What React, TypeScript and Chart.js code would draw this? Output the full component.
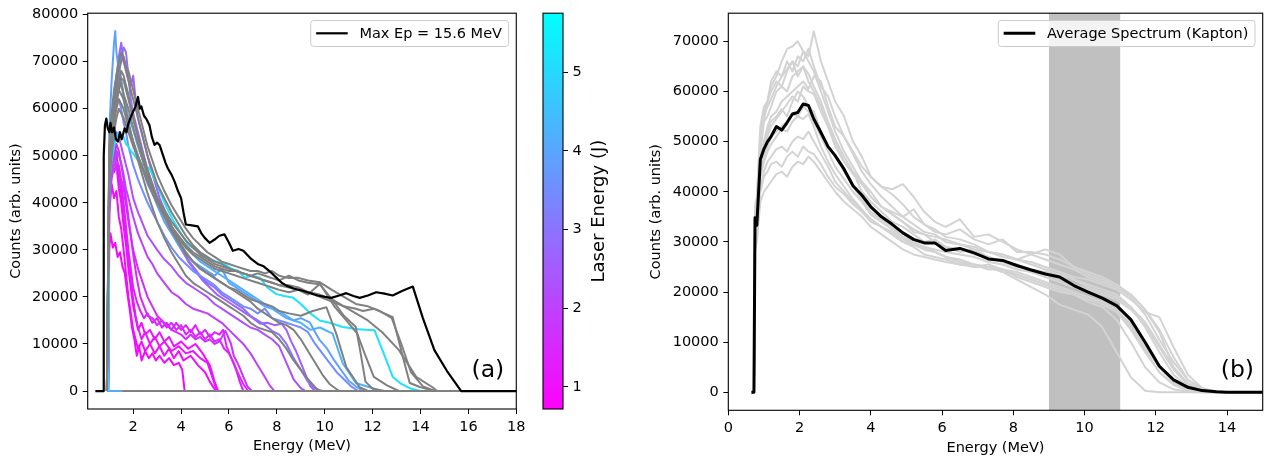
import React, { useEffect, useRef } from 'react';
import { Chart, registerables } from 'chart.js';

Chart.register(...registerables);

type Pt = [number, number];

const FONT_FAMILY = "'DejaVu Sans', 'Liberation Sans', sans-serif";

// ---------------- Panel (a) ----------------
const leftXTicks = [2, 4, 6, 8, 10, 12, 14, 16, 18];
const leftYTicks = [0, 10000, 20000, 30000, 40000, 50000, 60000, 70000, 80000];
const leftLegendLabel = 'Max Ep = 15.6 MeV';

const maxEpSpectrum: Pt[] = [[0.42,0],[0.75,0],[0.77,50000],[0.82,56500],[0.88,57900],[0.93,56000],[1.0,55000],[1.05,57000],[1.12,55000],[1.2,56000],[1.28,53500],[1.36,53000],[1.45,55000],[1.52,53500],[1.64,55800],[1.72,55000],[1.78,56500],[1.88,58000],[1.99,59300],[2.1,60500],[2.2,62500],[2.28,60000],[2.34,60500],[2.45,58500],[2.54,57900],[2.68,56500],[2.78,54000],[2.89,52300],[3.0,52800],[3.1,52300],[3.24,50200],[3.35,48500],[3.45,47300],[3.6,46000],[3.73,44500],[3.87,42500],[4.0,41000],[4.1,38000],[4.2,35400],[4.45,35200],[4.7,35000],[4.85,33500],[4.98,32600],[5.19,31500],[5.4,32200],[5.6,33000],[5.81,33300],[6.0,31500],[6.16,29800],[6.4,30200],[6.6,29800],[6.9,28200],[7.2,27000],[7.45,26500],[7.69,25500],[7.98,24100],[8.2,23000],[8.4,22400],[8.7,21800],[9.08,21300],[9.4,20800],[9.7,20300],[10.0,20000],[10.27,19800],[10.6,20300],[10.9,20800],[11.2,20200],[11.46,19800],[11.8,20300],[12.15,21000],[12.5,20700],[12.84,20300],[13.25,21300],[13.68,22200],[14.1,15500],[14.58,8700],[15.1,4300],[15.7,0],[18,0]];

// shots with a measured laser energy (coloured by the colour bar)
const shotM1: Pt[] = [[0.95,0],[1.0,30000],[1.05,33500],[1.15,30500],[1.25,31500],[1.35,28500],[1.45,29500],[1.55,26500],[1.65,25000],[1.75,21000],[1.85,17500],[1.95,13500],[2.05,11000],[2.15,7500],[2.25,9500],[2.35,6500],[2.5,8500],[2.65,7000],[2.8,8000],[2.95,6500],[3.1,7500],[3.3,6000],[3.5,7000],[3.7,5500],[3.9,6000],[4.05,4500],[4.15,0],[18,0]];
const shotM2: Pt[] = [[0.95,0],[1.0,38000],[1.1,44000],[1.2,41000],[1.3,42500],[1.4,37000],[1.5,34500],[1.6,30000],[1.7,25000],[1.8,20000],[1.9,16500],[2.0,13000],[2.1,11000],[2.2,9000],[2.35,10500],[2.5,8500],[2.7,10000],[2.9,8000],[3.1,9500],[3.3,7500],[3.5,9000],[3.7,7000],[3.9,8500],[4.1,6500],[4.4,7500],[4.7,5500],[5.0,4000],[5.2,2000],[5.45,0],[18,0]];
const shotM3: Pt[] = [[0.95,0],[1.0,45000],[1.1,49000],[1.2,46500],[1.3,48000],[1.4,43000],[1.5,40000],[1.6,35000],[1.7,31000],[1.8,26000],[1.9,22000],[2.0,18000],[2.1,15500],[2.2,13000],[2.35,14500],[2.5,12000],[2.7,13000],[2.9,11000],[3.1,12500],[3.3,10500],[3.5,11500],[3.7,9500],[4.0,10500],[4.3,9000],[4.6,10000],[4.9,8000],[5.2,5500],[5.4,2000],[5.55,0],[18,0]];
const shotM4: Pt[] = [[0.95,0],[1.0,47000],[1.1,52000],[1.2,49000],[1.3,50500],[1.4,45000],[1.5,42000],[1.6,38000],[1.7,33000],[1.8,28000],[1.9,23500],[2.0,19500],[2.1,16000],[2.2,13500],[2.35,11000],[2.5,12500],[2.7,10000],[2.9,11500],[3.1,9500],[3.3,10500],[3.6,8500],[3.9,9500],[4.2,8000],[4.5,8500],[4.8,7000],[5.1,6000],[5.3,3000],[5.5,0],[18,0]];
const shotM5: Pt[] = [[0.95,0],[1.0,46000],[1.1,51000],[1.2,53500],[1.3,50000],[1.4,47000],[1.5,44000],[1.6,40000],[1.7,35000],[1.8,30000],[1.9,26000],[2.0,22000],[2.15,19000],[2.3,17000],[2.45,15500],[2.6,16500],[2.8,14500],[3.0,15500],[3.2,13500],[3.4,14500],[3.6,13000],[3.8,14500],[4.0,13000],[4.2,14000],[4.4,12500],[4.6,14000],[4.8,12000],[5.0,13000],[5.2,11500],[5.4,12500],[5.6,12000],[5.75,13000],[5.9,9500],[6.1,7000],[6.3,4500],[6.45,2000],[6.6,0],[18,0]];
const shotM6: Pt[] = [[0.95,0],[1.0,42000],[1.1,47000],[1.2,50000],[1.3,52500],[1.4,51000],[1.5,48000],[1.6,45000],[1.7,41000],[1.8,37000],[1.9,33000],[2.0,29000],[2.15,24000],[2.3,20000],[2.45,18000],[2.6,16000],[2.8,15500],[3.0,14000],[3.2,15000],[3.4,13500],[3.6,14500],[3.8,13000],[4.0,14000],[4.2,12000],[4.4,13000],[4.6,11500],[4.8,12500],[5.0,11000],[5.2,12000],[5.4,10500],[5.6,11000],[5.8,9000],[6.0,8000],[6.2,6000],[6.4,3500],[6.6,1500],[6.8,0],[18,0]];
const shotM7: Pt[] = [[0.95,0],[1.0,44000],[1.1,48000],[1.2,49500],[1.3,47000],[1.4,48000],[1.5,45000],[1.6,43000],[1.7,39500],[1.8,36000],[1.9,33000],[2.0,30000],[2.2,26000],[2.4,23000],[2.6,20000],[2.8,18000],[3.0,16000],[3.2,15000],[3.4,14000],[3.6,13000],[3.8,12500],[4.0,12000],[4.2,11000],[4.4,12000],[4.6,11000],[4.8,11500],[5.0,10500],[5.2,11000],[5.4,10000],[5.6,10500],[5.85,12800],[6.08,10100],[6.2,7500],[6.4,5500],[6.6,3000],[6.78,900],[6.95,0],[18,0]];
const shotP1: Pt[] = [[0.95,0],[1.0,40000],[1.1,45000],[1.2,48000],[1.3,51000],[1.4,50000],[1.5,48500],[1.6,46000],[1.7,43000],[1.8,41000],[1.9,39000],[2.0,37000],[2.2,33500],[2.4,31000],[2.6,28500],[2.8,27000],[3.0,25000],[3.3,23000],[3.6,21000],[3.9,20000],[4.2,18500],[4.5,17500],[4.8,17000],[5.1,16500],[5.4,15500],[5.7,14500],[6.0,13000],[6.3,11500],[6.6,10000],[6.9,8000],[7.2,5500],[7.5,3000],[7.7,1200],[7.9,0],[18,0]];
const shotP2: Pt[] = [[0.95,0],[1.0,42000],[1.1,48000],[1.2,52000],[1.3,55000],[1.4,54000],[1.5,52000],[1.6,50000],[1.7,48000],[1.8,46000],[1.9,43500],[2.0,41000],[2.2,38000],[2.4,35500],[2.6,33000],[2.8,31500],[3.0,30000],[3.3,28000],[3.6,26500],[3.9,24500],[4.2,23000],[4.5,22000],[4.8,21000],[5.1,20000],[5.4,18500],[5.7,17500],[6.0,16500],[6.3,15500],[6.6,14500],[6.9,13500],[7.2,13000],[7.5,12000],[7.8,11000],[8.1,9500],[8.4,6000],[8.7,2500],[9.0,600],[9.2,0],[18,0]];
const shotP3: Pt[] = [[0.95,0],[1.0,48000],[1.1,56000],[1.2,62000],[1.3,67000],[1.4,71000],[1.5,74000],[1.6,70000],[1.7,68000],[1.8,66000],[1.9,65000],[2.0,67000],[2.1,62000],[2.2,58000],[2.35,55000],[2.5,52000],[2.7,48000],[2.9,44500],[3.1,41000],[3.4,37500],[3.7,34000],[4.0,30500],[4.3,27500],[4.6,25500],[4.9,23500],[5.2,22000],[5.5,20500],[5.8,19500],[6.1,18500],[6.4,17500],[6.7,16500],[7.0,15500],[7.3,14300],[7.6,14500],[7.9,14000],[8.2,14300],[8.4,13000],[8.6,10500],[8.8,8500],[9.0,6000],[9.2,3500],[9.4,1000],[9.6,0],[18,0]];
const shotP4: Pt[] = [[0.95,0],[1.0,46000],[1.1,54000],[1.2,60000],[1.3,64000],[1.4,68000],[1.5,71000],[1.6,73000],[1.7,72000],[1.8,67000],[1.9,62000],[2.0,59000],[2.2,55000],[2.4,51000],[2.6,47000],[2.8,44000],[3.0,41000],[3.3,37500],[3.6,34000],[3.9,31000],[4.2,28500],[4.5,26500],[4.8,24500],[5.1,23000],[5.4,22000],[5.7,20500],[6.0,19500],[6.3,18500],[6.6,17500],[6.9,16000],[7.2,15000],[7.5,14000],[7.8,12800],[8.1,12000],[8.4,10000],[8.7,7000],[9.0,4500],[9.3,2000],[9.6,500],[9.9,0],[18,0]];
const shotB1: Pt[] = [[0.95,0],[1.0,48000],[1.1,54000],[1.2,58000],[1.3,61000],[1.4,62000],[1.5,60000],[1.6,57000],[1.7,55000],[1.8,52000],[1.9,50000],[2.0,48000],[2.2,45000],[2.4,42500],[2.6,40000],[2.8,38000],[3.0,36000],[3.3,33000],[3.6,30500],[3.9,28500],[4.2,27000],[4.5,25500],[4.8,24500],[5.1,23500],[5.4,22500],[5.7,21000],[6.0,20000],[6.3,19000],[6.6,18000],[6.9,17500],[7.2,16500],[7.5,17500],[7.8,15500],[8.1,15000],[8.4,14500],[8.7,14000],[9.0,13500],[9.3,12500],[9.6,10000],[9.9,8000],[10.2,6000],[10.5,4000],[10.8,2500],[11.1,1000],[11.4,0],[18,0]];
const shotB2: Pt[] = [[0.9,0],[18,0]];
const shotB3: Pt[] = [[0.95,0],[1.0,55000],[1.1,66000],[1.2,74000],[1.25,76500],[1.3,72000],[1.4,68000],[1.5,66000],[1.6,62000],[1.7,60000],[1.8,57000],[1.9,55000],[2.0,53000],[2.2,50000],[2.4,47000],[2.6,44000],[2.8,42000],[3.0,39500],[3.3,36000],[3.6,33500],[3.9,31000],[4.2,29000],[4.5,27500],[4.8,26500],[5.1,25500],[5.4,24500],[5.7,26000],[6.0,23000],[6.3,22000],[6.6,21000],[6.9,20000],[7.2,19000],[7.5,18000],[7.8,17500],[8.1,16500],[8.4,15500],[8.7,15000],[9.0,15500],[9.37,14600],[9.6,12500],[9.79,10800],[10.1,9000],[10.4,6500],[10.75,4000],[11.0,2200],[11.3,1000],[11.6,0],[18,0]];
const shotB4: Pt[] = [[0.95,0],[1.0,50000],[1.1,57000],[1.2,63000],[1.3,67000],[1.4,70000],[1.5,66000],[1.6,63000],[1.7,61000],[1.8,58000],[1.9,57000],[2.0,55500],[2.2,52000],[2.4,49000],[2.6,46000],[2.8,43500],[3.0,41000],[3.3,38000],[3.6,35000],[3.9,32500],[4.2,30500],[4.5,29000],[4.8,27500],[5.1,26500],[5.4,25500],[5.7,24500],[6.0,23500],[6.3,22500],[6.6,21500],[6.9,20500],[7.2,19500],[7.5,18500],[7.8,17500],[8.1,17000],[8.4,16000],[8.7,15000],[9.0,14500],[9.4,13000],[9.8,13500],[10.33,12200],[10.75,5900],[11.3,1700],[12.0,600],[12.4,0],[18,0]];
const shotC1: Pt[] = [[0.95,0],[1.0,45000],[1.1,49000],[1.2,52000],[1.3,54000],[1.4,55000],[1.5,53500],[1.6,54000],[1.7,52500],[1.8,52000],[1.9,51000],[2.0,50500],[2.2,49000],[2.4,48000],[2.68,47300],[2.9,45000],[3.1,42500],[3.4,39000],[3.7,36000],[4.0,33500],[4.28,31200],[4.6,30000],[4.9,29000],[5.2,28000],[5.5,27500],[5.8,27000],[6.1,26000],[6.4,25500],[6.65,24100],[7.0,24500],[7.29,24100],[7.6,22000],[7.98,20600],[8.3,20200],[8.66,19900],[9.0,18500],[9.4,16500],[9.79,15000],[10.2,14500],[10.75,13600],[11.3,13200],[11.7,13000],[12.08,12900],[12.5,7500],[12.84,3000],[13.2,1500],[13.55,600],[14.0,0],[18,0]];

const colouredShots: Pt[][] = [shotM1, shotM2, shotM3, shotM4, shotM5, shotM6, shotM7, shotP1, shotP2, shotP3, shotP4, shotB1, shotB2, shotB3, shotB4, shotC1];
const colouredShotLaserJ = [0.85, 0.95, 1.05, 1.15, 1.3, 1.45, 1.6, 2.0, 2.3, 2.6, 2.9, 3.5, 4.0, 3.9, 4.2, 5.2];

// shots without a laser energy reading (grey)
const shotG0: Pt[] = [[1.55,0],[18,0]];
const shotG1: Pt[] = [[0.9,0],[1.0,45000],[1.1,52000],[1.2,58000],[1.3,61000],[1.4,64000],[1.5,63000],[1.6,62000],[1.7,59500],[1.8,57000],[1.9,55000],[2.0,53000],[2.2,49000],[2.4,45500],[2.6,42000],[2.8,39000],[3.0,36000],[3.3,32500],[3.6,29500],[3.9,27000],[4.2,24500],[4.5,23000],[4.8,22000],[5.1,21000],[5.4,20000],[5.7,19000],[6.0,18000],[6.3,17000],[6.6,16000],[6.9,14500],[7.2,13500],[7.5,13000],[7.8,12500],[8.1,11000],[8.4,9000],[8.7,6500],[9.0,4500],[9.3,2500],[9.6,800],[9.8,0],[18,0]];
const shotG2: Pt[] = [[0.9,0],[1.0,48000],[1.1,55000],[1.2,60000],[1.3,64000],[1.4,66000],[1.5,68000],[1.6,67000],[1.7,65000],[1.8,63000],[1.9,60000],[2.0,58000],[2.2,54000],[2.4,50500],[2.6,47000],[2.8,44000],[3.0,41000],[3.3,37500],[3.6,34500],[3.9,32000],[4.2,29500],[4.5,27500],[4.8,26000],[5.1,25000],[5.4,24000],[5.7,23000],[6.0,22000],[6.3,21000],[6.6,20000],[6.9,19000],[7.2,17500],[7.5,16500],[7.8,15500],[8.1,14500],[8.4,14000],[8.7,13000],[9.0,11000],[9.3,8500],[9.6,6000],[9.9,3500],[10.2,1500],[10.6,0],[18,0]];
const shotG3: Pt[] = [[0.9,0],[1.0,49000],[1.1,56000],[1.2,60000],[1.3,62500],[1.4,64000],[1.5,65500],[1.6,63000],[1.7,61500],[1.8,60000],[1.9,58000],[2.0,56000],[2.2,52500],[2.4,49000],[2.6,46000],[2.8,43000],[3.0,40000],[3.3,37000],[3.6,34000],[3.9,31500],[4.2,29000],[4.5,27500],[4.8,26000],[5.1,25000],[5.4,24000],[5.7,23000],[6.0,22000],[6.3,21500],[6.6,20500],[6.9,19500],[7.2,19000],[7.5,18500],[7.8,18000],[8.1,17000],[8.5,16500],[9.0,16000],[9.5,17000],[10.07,17800],[10.48,12200],[10.9,5100],[11.46,800],[11.8,0],[18,0]];
const shotG4: Pt[] = [[0.9,0],[1.0,50000],[1.1,57000],[1.2,62000],[1.3,66000],[1.4,68000],[1.5,70000],[1.6,71000],[1.7,68500],[1.8,66000],[1.9,64000],[2.0,62000],[2.2,58000],[2.4,54000],[2.6,50000],[2.8,47000],[3.0,44000],[3.3,41000],[3.6,38000],[3.9,35500],[4.2,33000],[4.5,31000],[4.8,29500],[5.1,28500],[5.4,27500],[5.7,27000],[6.0,26000],[6.3,25500],[6.6,25000],[6.9,24500],[7.2,25000],[7.5,24500],[7.8,24000],[8.1,23500],[8.5,24500],[8.9,23500],[9.3,23000],[9.79,22700],[10.3,19500],[10.8,16000],[11.3,13600],[11.5,8000],[11.7,2000],[12.0,500],[12.5,0],[18,0]];
const shotG5: Pt[] = [[0.9,0],[1.0,47000],[1.1,54000],[1.2,59000],[1.3,62000],[1.4,65000],[1.5,66500],[1.6,66000],[1.7,64000],[1.8,62000],[1.9,60000],[2.0,58000],[2.2,54000],[2.4,50000],[2.6,46500],[2.8,43500],[3.0,41000],[3.3,38000],[3.6,35000],[3.9,32500],[4.2,30500],[4.5,29000],[4.8,28000],[5.1,27000],[5.4,26000],[5.7,25500],[6.0,25000],[6.3,24500],[6.6,24000],[6.9,23500],[7.2,23000],[7.5,22500],[7.8,22000],[8.1,21500],[8.5,21000],[8.9,21500],[9.3,20500],[9.8,22800],[10.4,18000],[10.9,15000],[11.36,12200],[11.7,7500],[12.05,3000],[12.6,1200],[13.1,0],[18,0]];
const shotG6: Pt[] = [[0.9,0],[1.0,46000],[1.1,52000],[1.2,57000],[1.3,60000],[1.4,62000],[1.5,61000],[1.6,60000],[1.7,58000],[1.8,56000],[1.9,54500],[2.0,53000],[2.2,50000],[2.4,47500],[2.6,45000],[2.8,43000],[3.0,41000],[3.3,38500],[3.6,36000],[3.9,34000],[4.2,32000],[4.5,30500],[4.8,29000],[5.1,28000],[5.4,27000],[5.7,26500],[6.0,26000],[6.3,25500],[6.6,25000],[6.9,24500],[7.2,24000],[7.5,23500],[7.8,23000],[8.1,22500],[8.5,22000],[8.9,21500],[9.3,21000],[9.8,20000],[10.3,19000],[10.8,18000],[11.3,17500],[11.6,17000],[12.05,17500],[12.84,15700],[13.2,8500],[13.55,1700],[14.0,800],[14.6,0],[18,0]];
const shotG7: Pt[] = [[0.9,0],[1.0,44000],[1.1,50000],[1.2,55000],[1.3,58000],[1.4,60000],[1.5,59000],[1.6,58000],[1.7,56500],[1.8,55000],[1.9,53500],[2.0,52000],[2.2,49500],[2.4,47000],[2.6,44500],[2.8,42000],[3.0,40000],[3.3,37500],[3.6,35000],[3.9,33000],[4.2,31000],[4.5,29500],[4.8,28500],[5.1,27500],[5.4,26500],[5.7,26000],[6.0,25500],[6.3,25500],[6.6,25000],[6.9,24500],[7.2,24000],[7.5,23500],[7.8,23000],[8.1,22500],[8.5,22500],[8.9,22000],[9.3,21000],[9.8,20500],[10.3,19500],[10.8,18000],[11.3,16500],[11.8,15000],[12.4,12500],[13.1,8700],[13.82,3000],[14.5,800],[14.7,0],[18,0]];
const shotG8: Pt[] = [[0.9,0],[1.0,52000],[1.1,59000],[1.2,64000],[1.3,67000],[1.4,70000],[1.5,72000],[1.6,71000],[1.7,69000],[1.8,68000],[1.9,66000],[2.0,64000],[2.2,60000],[2.4,56000],[2.6,52000],[2.8,49000],[3.0,46000],[3.3,42500],[3.6,39500],[3.9,37000],[4.2,34500],[4.5,32500],[4.8,31000],[5.1,29500],[5.4,28500],[5.7,27500],[6.0,27000],[6.3,26500],[6.6,26000],[6.9,25500],[7.2,25500],[7.5,25000],[7.8,25500],[8.1,24500],[8.5,24000],[8.86,24100],[9.3,23500],[9.8,23100],[10.3,21500],[10.8,20000],[11.3,18500],[11.8,18000],[12.3,17000],[12.8,15500],[13.2,10000],[13.6,4000],[14.1,1000],[14.6,0],[18,0]];

const greyShots: Pt[][] = [shotG0, shotG1, shotG2, shotG3, shotG4, shotG5, shotG6, shotG7, shotG8];

// colour bar (laser energy, J)
const CB_MIN = 0.72;
const CB_MAX = 5.75;
const colourBarTicks = [1, 2, 3, 4, 5];

// ---------------- Panel (b) ----------------
const rightXTicks = [0, 2, 4, 6, 8, 10, 12, 14];
const rightYTicks = [0, 10000, 20000, 30000, 40000, 50000, 60000, 70000];
const rightLegendLabel = 'Average Spectrum (Kapton)';
const bandRange = [9, 11];

const rightEnergy = [0.65, 0.72, 0.75, 0.8, 0.9, 1.0, 1.1, 1.2, 1.35, 1.5, 1.65, 1.8, 1.95, 2.1, 2.25, 2.4, 2.6, 2.8, 3.0, 3.25, 3.5, 3.75, 4.0, 4.3, 4.6, 4.9, 5.2, 5.5, 5.8, 6.1, 6.5, 6.9, 7.3, 7.7, 8.1, 8.5, 8.9, 9.3, 9.7, 10.1, 10.5, 10.9, 11.3, 11.7, 12.1, 12.5, 12.9, 13.3, 13.7, 14.0, 15.0];

const averageSpectrum = [0, 0, 34800, 33300, 46500, 48500, 50000, 51000, 53000, 52300, 53800, 55500, 55800, 57500, 57200, 54500, 51800, 49000, 47200, 44500, 41200, 39300, 37000, 35000, 33500, 31800, 30500, 29800, 29800, 28300, 28700, 27800, 26600, 26300, 25300, 24400, 23600, 23000, 21300, 20000, 18800, 17300, 14500, 10000, 5200, 2500, 1000, 350, 100, 0, 0];

const kapton01 = [0, 0, 36000, 38000, 50000, 55000, 57000, 58500, 61000, 63000, 64500, 66000, 65000, 68000, 67000, 72000, 66000, 62000, 58000, 55000, 50000, 47000, 43000, 41000, 39500, 37500, 35000, 33500, 32500, 31000, 30500, 29500, 28000, 27500, 26500, 27500, 28500, 27500, 25000, 23500, 22500, 21000, 19500, 16500, 12000, 5000, 1500, 400, 100, 0, 0];
const kapton02 = [0, 0, 33000, 35000, 48000, 54000, 58000, 61000, 63000, 66000, 68500, 69000, 70000, 68000, 66000, 64000, 60000, 56000, 52000, 48000, 45000, 42000, 40000, 37000, 35500, 34000, 32000, 31500, 30000, 29000, 28500, 27500, 27000, 26000, 25000, 24500, 24000, 23500, 22500, 21500, 20500, 19500, 17000, 13000, 8000, 3500, 1000, 200, 0, 0, 0];
const kapton03 = [0, 0, 35000, 37000, 52000, 56000, 58000, 60000, 62000, 61000, 64000, 66000, 63000, 65000, 62000, 60000, 57000, 53000, 50000, 46000, 44000, 40000, 38000, 36000, 34000, 33000, 31500, 30000, 30500, 29000, 28000, 28500, 27000, 26000, 25500, 24000, 23500, 22500, 21500, 20500, 19500, 18500, 16500, 13500, 9000, 4500, 1500, 300, 0, 0, 0];
const kapton04 = [0, 0, 30000, 33000, 46000, 50000, 52000, 54000, 55000, 56500, 55000, 58000, 60000, 59000, 57000, 56000, 52000, 49000, 47000, 44000, 41000, 38500, 36000, 34500, 33000, 31000, 30000, 29000, 28500, 28000, 27500, 27000, 26000, 25500, 24500, 24000, 23000, 22000, 21000, 20000, 19000, 17500, 14000, 9000, 5000, 2000, 600, 100, 0, 0, 0];
const kapton05 = [0, 0, 34000, 36000, 47000, 50000, 53000, 55000, 56000, 58000, 59000, 60000, 61000, 62000, 60500, 63000, 62000, 57000, 53000, 51000, 48000, 45000, 43000, 41000, 40500, 41500, 39000, 36000, 34000, 33000, 34500, 31000, 31500, 30000, 28500, 27500, 26500, 25500, 24500, 23000, 22000, 21000, 19000, 15500, 10500, 6000, 2500, 700, 150, 0, 0];
const kapton06 = [0, 0, 28000, 30000, 38000, 40000, 41000, 42000, 43500, 44000, 43000, 45000, 46000, 45500, 47000, 46000, 44000, 42000, 40000, 38000, 36500, 35000, 33000, 31500, 30000, 28500, 27500, 27000, 26500, 26000, 25500, 25000, 25000, 24500, 24000, 23000, 22000, 21000, 20000, 19000, 18000, 16500, 13000, 8500, 4000, 1500, 400, 100, 0, 0, 0];
const kapton07 = [0, 0, 31000, 32000, 40000, 43000, 44000, 45500, 46000, 45000, 47000, 48000, 47000, 49000, 48000, 47500, 45500, 43000, 41000, 39500, 37500, 36000, 34000, 33000, 31500, 30000, 29500, 29000, 28000, 27000, 26000, 25000, 25500, 24500, 23000, 22000, 21000, 20000, 19500, 18000, 17000, 14500, 10000, 5000, 2000, 600, 100, 0, 0, 0, 0];
const kapton08 = [0, 0, 32000, 34000, 44000, 47000, 49000, 51000, 52000, 53000, 54000, 55500, 55000, 57000, 56000, 54000, 51000, 48000, 45000, 42500, 40000, 38000, 35500, 34000, 32500, 31000, 29500, 28500, 28000, 27000, 26000, 25500, 25000, 24000, 22500, 21000, 19500, 17500, 16500, 15500, 13000, 8000, 3000, 300, 0, 0, 0, 0, 0, 0, 0];
const kapton09 = [0, 0, 34000, 36000, 50000, 54000, 55000, 57000, 60000, 61000, 60000, 63000, 64000, 65000, 63500, 61000, 58000, 54000, 50500, 47000, 44000, 42000, 39000, 37000, 35500, 34000, 32500, 31500, 31000, 30500, 29500, 28500, 28000, 27500, 26500, 26000, 25000, 24000, 23000, 22500, 21500, 20500, 18500, 16000, 15000, 9000, 3500, 800, 150, 0, 0];
const kapton10 = [0, 0, 29000, 31000, 43000, 46000, 48000, 49500, 51000, 52500, 52000, 54000, 55000, 54500, 55500, 53000, 49000, 46000, 43500, 41000, 38500, 36500, 34500, 33000, 31500, 30000, 29000, 27500, 27000, 26500, 25500, 25500, 25000, 24000, 23500, 22500, 21500, 20500, 19500, 18500, 17500, 16000, 12500, 8000, 4000, 1500, 400, 0, 0, 0, 0];
const kapton11 = [0, 0, 37000, 39000, 53000, 57000, 58000, 62000, 64000, 63000, 66000, 64000, 67000, 66000, 68500, 65000, 61000, 59000, 55000, 51000, 47500, 44000, 41500, 39000, 37000, 35000, 33500, 32000, 31500, 30000, 29500, 29000, 28000, 27000, 26500, 25500, 24500, 23500, 22500, 21000, 20000, 19000, 17000, 14000, 9500, 5000, 1800, 500, 100, 0, 0];
const kapton12 = [0, 0, 30000, 32000, 41000, 44000, 46000, 47000, 48500, 49000, 48000, 50000, 51000, 50500, 52000, 50000, 47500, 45000, 42000, 40000, 38000, 36000, 34500, 33000, 32000, 30500, 29500, 28500, 28000, 27000, 26500, 25500, 24500, 24500, 23500, 22500, 21500, 21000, 20000, 19000, 18000, 16500, 13500, 9500, 5000, 2000, 500, 100, 0, 0, 0];
const kapton13 = [0, 0, 33000, 35000, 45000, 49000, 51000, 53000, 54500, 56000, 57500, 59000, 58000, 61000, 60000, 59500, 56000, 53000, 49000, 46000, 43500, 41500, 39000, 37000, 36000, 35000, 36500, 33500, 32000, 31500, 32500, 30500, 29500, 30500, 28000, 28000, 27500, 26500, 25000, 24000, 23000, 21500, 19500, 16500, 12500, 7000, 2500, 600, 100, 0, 0];

const kaptonShots = [kapton01, kapton02, kapton03, kapton04, kapton05, kapton06, kapton07, kapton08, kapton09, kapton10, kapton11, kapton12, kapton13];

// ---------------- helpers ----------------
function coolColour(j: number): string {
  const t = Math.min(1, Math.max(0, (j - CB_MIN) / (CB_MAX - CB_MIN)));
  return `rgb(${Math.round(255 * (1 - t))},${Math.round(255 * t)},255)`;
}

const TICK_FONT = { family: FONT_FAMILY, size: 14.5 };

function axisCommon(tickValues: number[], fixed: { width?: number; height?: number }) {
  return {
    type: 'linear' as const,
    afterBuildTicks: (s: any) => {
      s.ticks = tickValues.map((v) => ({ value: v }));
    },
    afterFit: (s: any) => {
      if (fixed.width !== undefined) s.width = fixed.width;
      if (fixed.height !== undefined) s.height = fixed.height;
    },
    grid: { drawOnChartArea: false, drawTicks: true, tickLength: 5, tickWidth: 1, tickColor: '#000' },
    border: { display: false },
    ticks: {
      font: TICK_FONT,
      color: '#000',
      padding: 4.5,
      autoSkip: false,
      maxRotation: 0,
      callback: (v: any) => String(v),
    },
  };
}

function framePlugin() {
  return {
    id: 'frame',
    afterDatasetsDraw(chart: any) {
      const { ctx, chartArea: a } = chart;
      ctx.save();
      ctx.strokeStyle = '#000';
      ctx.lineWidth = 1.1;
      ctx.strokeRect(a.left, a.top, a.right - a.left, a.bottom - a.top);
      ctx.restore();
    },
  };
}

function boxLegendPlugin(label: string, lineWidth: number) {
  return {
    id: 'boxLegend',
    afterDraw(chart: any) {
      const { ctx, chartArea: a } = chart;
      ctx.save();
      ctx.font = `14.5px ${FONT_FAMILY}`;
      const tw = ctx.measureText(label).width;
      const w = tw + 55.3;
      const h = 26;
      const x = a.right - 7.7 - w;
      const y = a.top + 7.3;
      ctx.beginPath();
      if ((ctx as any).roundRect) (ctx as any).roundRect(x, y, w, h, 3);
      else ctx.rect(x, y, w, h);
      ctx.fillStyle = 'rgba(255,255,255,0.8)';
      ctx.fill();
      ctx.strokeStyle = '#cccccc';
      ctx.lineWidth = 1;
      ctx.stroke();
      ctx.beginPath();
      ctx.moveTo(x + 5.4, y + 12.8);
      ctx.lineTo(x + 37, y + 12.8);
      ctx.strokeStyle = '#000';
      ctx.lineWidth = lineWidth;
      ctx.stroke();
      ctx.fillStyle = '#000';
      ctx.textBaseline = 'middle';
      ctx.textAlign = 'left';
      ctx.fillText(label, x + 48.7, y + 13.3);
      ctx.restore();
    },
  };
}

function panelLabelPlugin(text: string, fromRight: number, fromBottom: number) {
  return {
    id: 'panelLabel',
    afterDraw(chart: any) {
      const { ctx, chartArea: a } = chart;
      ctx.save();
      ctx.font = `23.5px ${FONT_FAMILY}`;
      ctx.fillStyle = '#000';
      ctx.textAlign = 'right';
      ctx.textBaseline = 'alphabetic';
      ctx.fillText(text, a.right - fromRight, a.bottom - fromBottom);
      ctx.restore();
    },
  };
}

export default function App() {
  const leftRef = useRef<HTMLCanvasElement>(null);
  const cbRef = useRef<HTMLCanvasElement>(null);
  const rightRef = useRef<HTMLCanvasElement>(null);

  useEffect(() => {
    const charts: Chart[] = [];

    // ---- Panel (a)
    const leftSets: any[] = [];
    colouredShots.forEach((pts, i) => {
      leftSets.push({ data: pts, borderColor: coolColour(colouredShotLaserJ[i]), borderWidth: 2 });
    });
    greyShots.forEach((pts) => {
      leftSets.push({ data: pts, borderColor: '#808080', borderWidth: 2 });
    });
    leftSets.push({ data: maxEpSpectrum, borderColor: '#000000', borderWidth: 2.2 });
    leftSets.reverse();

    if (leftRef.current) {
      charts.push(
        new Chart(leftRef.current, {
          type: 'line',
          data: { datasets: leftSets },
          options: {
            responsive: false,
            animation: false,
            devicePixelRatio: 1,
            events: [],
            layout: { padding: { left: 0, top: 9.5, right: 13, bottom: 0 } },
            elements: {
              point: { radius: 0 },
              line: { tension: 0, borderJoinStyle: 'round', fill: false },
            },
            plugins: { legend: { display: false }, tooltip: { enabled: false } },
            scales: {
              x: {
                ...axisCommon(leftXTicks, { height: 52 }),
                min: 0.1,
                max: 18,
                title: { display: true, text: 'Energy (MeV)', font: TICK_FONT, color: '#000', padding: { top: 0, bottom: 6.3 } },
              },
              y: {
                ...axisCommon(leftYTicks, { width: 87.7 }),
                min: -3820,
                max: 80300,
                title: { display: true, text: 'Counts (arb. units)', font: TICK_FONT, color: '#000', padding: { top: 7.6, bottom: 0 } },
              },
            },
          } as any,
          plugins: [framePlugin(), boxLegendPlugin(leftLegendLabel, 2.2), panelLabelPlugin('(a)', 12, 32)] as any,
        })
      );
    }

    // ---- colour bar
    if (cbRef.current) {
      charts.push(
        new Chart(cbRef.current, {
          type: 'scatter',
          data: { datasets: [{ data: [] }] },
          options: {
            responsive: false,
            animation: false,
            devicePixelRatio: 1,
            events: [],
            layout: { padding: { left: 13, top: 9.5, right: 0, bottom: 52 } },
            plugins: { legend: { display: false }, tooltip: { enabled: false } },
            scales: {
              x: { type: 'linear', display: false, min: 0, max: 1 },
              y: {
                ...axisCommon(colourBarTicks, { width: 77 }),
                position: 'right',
                min: CB_MIN,
                max: CB_MAX,
              },
            },
          } as any,
          plugins: [
            {
              id: 'gradient',
              beforeDatasetsDraw(chart: any) {
                const { ctx, chartArea: a, scales } = chart;
                const yb = scales.y.getPixelForValue(CB_MIN);
                const yt = scales.y.getPixelForValue(CB_MAX);
                const g = ctx.createLinearGradient(0, yb, 0, yt);
                g.addColorStop(0, coolColour(CB_MIN));
                g.addColorStop(1, coolColour(CB_MAX));
                ctx.save();
                ctx.fillStyle = g;
                ctx.fillRect(a.left, a.top, a.right - a.left, a.bottom - a.top);
                ctx.restore();
              },
            },
            framePlugin(),
            {
              id: 'cbTitle',
              afterDraw(chart: any) {
                const { ctx, chartArea: a } = chart;
                ctx.save();
                ctx.translate(73.5, (a.top + a.bottom) / 2);
                ctx.rotate(-Math.PI / 2);
                ctx.font = `18px ${FONT_FAMILY}`;
                ctx.fillStyle = '#000';
                ctx.textAlign = 'center';
                ctx.textBaseline = 'alphabetic';
                ctx.fillText('Laser Energy (J)', 0, 0);
                ctx.restore();
              },
            },
          ] as any,
        })
      );
    }

    // ---- Panel (b)
    const rightSets: any[] = [];
    kaptonShots.forEach((vals) => {
      rightSets.push({
        data: rightEnergy.map((e, i) => [e, vals[i]]),
        borderColor: '#d3d3d3',
        borderWidth: 2,
      });
    });
    rightSets.push({
      data: rightEnergy.map((e, i) => [e, averageSpectrum[i]]),
      borderColor: '#000000',
      borderWidth: 3,
    });
    rightSets.reverse();

    if (rightRef.current) {
      charts.push(
        new Chart(rightRef.current, {
          type: 'line',
          data: { datasets: rightSets },
          options: {
            responsive: false,
            animation: false,
            devicePixelRatio: 1,
            events: [],
            layout: { padding: { left: 0, top: 12.7, right: 8.3, bottom: 0 } },
            elements: {
              point: { radius: 0 },
              line: { tension: 0, borderJoinStyle: 'round', fill: false },
            },
            plugins: { legend: { display: false }, tooltip: { enabled: false } },
            scales: {
              x: {
                ...axisCommon(rightXTicks, { height: 50.7 }),
                min: 0,
                max: 15,
                title: { display: true, text: 'Energy (MeV)', font: TICK_FONT, color: '#000', padding: { top: 0, bottom: 4.3 } },
              },
              y: {
                ...axisCommon(rightYTicks, { width: 88.3 }),
                min: -3580,
                max: 75600,
                title: { display: true, text: 'Counts (arb. units)', font: TICK_FONT, color: '#000', padding: { top: 7.6, bottom: 0 } },
              },
            },
          } as any,
          plugins: [
            {
              id: 'band',
              beforeDatasetsDraw(chart: any) {
                const { ctx, chartArea: a, scales } = chart;
                const x0 = scales.x.getPixelForValue(bandRange[0]);
                const x1 = scales.x.getPixelForValue(bandRange[1]);
                ctx.save();
                ctx.fillStyle = '#c0c0c0';
                ctx.fillRect(x0, a.top, x1 - x0, a.bottom - a.top);
                ctx.restore();
              },
            },
            framePlugin(),
            boxLegendPlugin(rightLegendLabel, 3),
            panelLabelPlugin('(b)', 8.7, 33.3),
          ] as any,
        })
      );
    }

    return () => {
      charts.forEach((c) => c.destroy());
    };
  }, []);

  return (
    <div style={{ position: 'absolute', left: 0, top: 0, width: 1271, height: 461, background: '#ffffff' }}>
      <canvas ref={leftRef} width={530} height={461} style={{ position: 'absolute', left: 0, top: 0 }} />
      <canvas ref={cbRef} width={110} height={461} style={{ position: 'absolute', left: 530, top: 0 }} />
      <canvas ref={rightRef} width={631} height={461} style={{ position: 'absolute', left: 640, top: 0 }} />
    </div>
  );
}
